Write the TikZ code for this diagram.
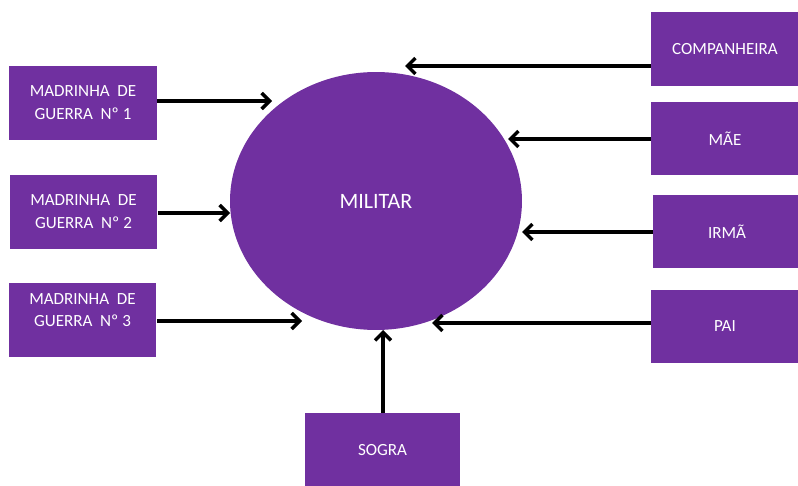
\documentclass[tikz,border=0pt]{standalone}
\usepackage{fontspec}
\setmainfont{Carlito}
\usepackage{tikz}
\usetikzlibrary{positioning, arrows.meta, shapes.geometric}
\definecolor{officepurple}{HTML}{7030A0}

\begin{document}
\begin{tikzpicture}[
		x=0.02cm,
		y=-0.02cm,
		font=\fontsize{9.7}{13}\selectfont,
		person/.style={fill=officepurple, text=white, align=center, inner sep=0pt, minimum width=2.96cm, minimum height=1.48cm},
		centre/.style={ellipse, fill=officepurple, text=white, inner sep=0pt, minimum width=5.84cm, minimum height=5.16cm, font=\fontsize{12.5}{15}\selectfont},
		msg/.style={-{Straight Barb[length=4.5pt, width=9pt]}, line width=2pt}
		]
		\useasboundingbox (0,0) rectangle (798,486);
		
		% Centre
		\node[centre] (mil) at (376,201) {MILITAR};
		
		% Left side
		\node[person] (mad1) at (83,103) {MADRINHA~~DE\\GUERRA~~Nº~1};
		\node[person] (mad2) at (83.5,212) {MADRINHA~~DE\\GUERRA~~Nº~2};
		\node[person] (mad3) at (82.5,320) {MADRINHA~~DE\\GUERRA~~Nº~3\\[-5.6pt]\strut};
		
		% Right side
		\node[person] (comp) at (725,49) {COMPANHEIRA};
		\node[person] (mae) at (725,138.5) {MÃE};
		\node[person] (irma) at (727,231.5) {IRMÃ};
		\node[person] (pai) at (725,326.5) {PAI};
		
		% Bottom
		\node[person, minimum width=3.1cm] (sogra) at (382.5,450) {SOGRA};
		
		% Arrow tips
		\coordinate (tip1) at (272,101);
		\coordinate (tip2) at (230,213);
		\coordinate (tip3) at (302,321);
		\coordinate (tipc) at (405,66);
		\coordinate (tipm) at (508,139);
		\coordinate (tipi) at (522,232);
		\coordinate (tipp) at (432,323);
		\coordinate (tips) at (383,330);
		
		% Arrows
		\draw[msg] (mad1.east |- tip1) -- (tip1);
		\draw[msg] (mad2.east |- tip2) -- (tip2);
		\draw[msg] (mad3.east |- tip3) -- (tip3);
		\draw[msg] (comp.west |- tipc) -- (tipc);
		\draw[msg] (mae.west |- tipm) -- (tipm);
		\draw[msg] (irma.west |- tipi) -- (tipi);
		\draw[msg] (pai.west |- tipp) -- (tipp);
		\draw[msg] (sogra.north -| tips) -- (tips);
	\end{tikzpicture}
\end{document}
